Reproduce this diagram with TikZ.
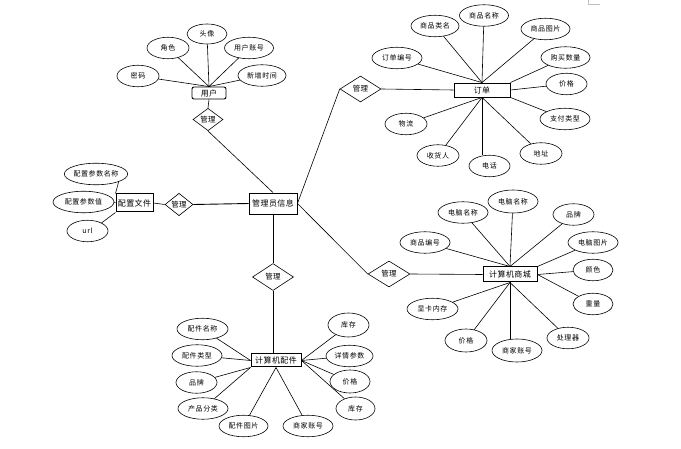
\documentclass[tikz,border=0pt]{standalone}
\usepackage{fontspec}
\setmainfont{Noto Sans CJK SC}
\usetikzlibrary{shapes.geometric}
\tikzset{
  attr/.style={draw, ellipse, inner sep=0pt, minimum height=21.5pt, minimum width=42pt, font=\fontsize{7}{8}\selectfont\addfontfeature{LetterSpace=8}, line width=0.6pt},
  attrw/.style={attr, minimum width=50pt},
  ent/.style={draw, rectangle, inner sep=0pt, line width=0.9pt, font=\fontsize{8}{9}\selectfont\addfontfeature{LetterSpace=6}},
  rel/.style={draw, diamond, inner sep=0pt, line width=0.6pt, font=\fontsize{7.5}{8}\selectfont\addfontfeature{LetterSpace=6}},
  conn/.style={line width=0.6pt},
}
\begin{document}
\begin{tikzpicture}[x=1pt,y=-1pt]
\useasboundingbox (0,0) rectangle (681,449);
\fill[white] (0,0) rectangle (681,449);
\coordinate (pc1) at (588,0);
\coordinate (pc2) at (588,4);
\coordinate (pc3) at (600,4);
\draw[gray!50, line width=0.5pt] (pc1) -- (pc2) -- (pc3);

% user
\node[ent, rounded corners=2pt, minimum width=34pt, minimum height=12pt] (user) at (209,93) {用户};
\node[rel, minimum width=30pt, minimum height=21pt] (udia) at (208,119.5) {管理};
\node[attr] (u1) at (138,76) {密码};
\node[attr] (u2) at (168,48) {角色};
\node[attr, minimum width=40pt, minimum height=20pt] (u3) at (207,34) {头像};
\node[attrw, minimum width=49pt] (u4) at (249,48) {用户账号};
\node[attrw, minimum width=48pt] (u5) at (262,75.5) {新增时间};
\foreach \a in {u1,u2,u3,u4,u5} \draw[conn] (\a) -- (user.north);
\draw[conn] (user.south) -- (udia.north);

% order
\node[ent, minimum width=56pt, minimum height=14pt] (order) at (482,90) {订单};
\node[rel, minimum width=41pt, minimum height=26pt] (odia) at (360.5,89) {管理};
\node[attrw] (o1) at (397,58) {订单编号};
\node[attrw, minimum width=48pt] (o2) at (435,26) {商品类名};
\node[attrw, minimum width=49pt] (o3) at (484,15.5) {商品名称};
\node[attrw, minimum width=49pt] (o4) at (545.5,29) {商品图片};
\node[attrw, minimum width=49pt] (o5) at (565.5,57.5) {购买数量};
\node[attr, minimum width=41pt] (o6) at (566.5,84) {价格};
\node[attrw] (o7) at (565,119) {支付类型};
\node[attr] (o8) at (406,124) {物流};
\node[attr] (o9) at (438,155.5) {收货人};
\node[attr, minimum width=41pt] (o10) at (489.5,166) {电话};
\node[attr] (o11) at (541,153.5) {地址};
\foreach \a in {o1,o2,o3,o4} \draw[conn] (\a) -- (order.north);
\draw[conn] (o5) -- (order.north east);
\draw[conn] (o6) -- (order.east);
\draw[conn] (o7) -- (order.south east);
\foreach \a in {o8,o9,o11} \draw[conn] (\a) -- (order.south);
\draw[conn] (order.south) -- (order.south |- o10.north);
\draw[conn] (odia.east) -- (order.west);

% config
\node[ent, line width=1pt, minimum width=37pt, minimum height=18pt] (cfg) at (134.5,203) {配置文件};
\node[rel, minimum width=28pt, minimum height=17pt] (cdia) at (179,204.5) {管理};
\node[attr, minimum width=63pt] (c1) at (96,174) {配置参数名称};
\node[attr, minimum width=61pt] (c2) at (83.5,202) {配置参数值};
\node[attr, minimum width=41pt] (c3) at (87.5,231) {url};
\draw[conn] (c1.south east) -- (cfg.north west);
\draw[conn] (c2.east) -- (cfg.west);
\draw[conn] (c3.30) -- (cfg.south west);
\draw[conn] (cfg.east) -- (cdia.west);

% admin
\node[ent, minimum width=48pt, minimum height=21pt] (admin) at (273,203.5) {管理员信息};
\draw[conn, line width=0.9pt] (cdia.east) -- (admin.west);
\draw[conn] (udia.south) -- (admin.north);
\draw[conn] (odia.west) -- (admin.east);
\node[rel, minimum width=41pt, minimum height=27pt] (pdia) at (273,277) {管理};
\node[rel, minimum width=42pt, minimum height=26pt] (mdia) at (389,274) {管理};
\draw[conn, line width=0.8pt] (admin.south) -- (pdia.north);
\draw[conn] (admin.east) -- (mdia.west);

% mall
\node[ent, line width=1pt, minimum width=54pt, minimum height=15pt] (mall) at (510,274.5) {计算机商城};
\draw[conn] (mdia.east) -- (mall.west);
\node[attrw] (m1) at (463,212.5) {电脑名称};
\node[attrw, minimum height=23pt] (m2) at (513,201.5) {电脑名称};
\node[attr, minimum width=41pt] (m3) at (573.5,214.5) {品牌};
\node[attrw] (m4) at (593,242.5) {电脑图片};
\node[attrw] (m5) at (425,242.5) {商品编号};
\node[attr, minimum width=40pt] (m6) at (593,270) {颜色};
\node[attr, minimum width=40pt] (m7) at (593,304) {重量};
\node[attrw, minimum width=51pt] (m8) at (432.5,309) {显卡内存};
\node[attr, minimum height=23pt] (m9) at (466,340.5) {价格};
\node[attrw, minimum height=23pt] (m10) at (517,350.5) {商家账号};
\node[attr] (m11) at (568,338) {处理器};
\foreach \a in {m1,m2,m3,m5} \draw[conn] (\a) -- (mall.north);
\draw[conn] (m4) -- (mall.north east);
\draw[conn] (m6) -- (mall.east);
\draw[conn] (m7) -- (mall.east);
\foreach \a in {m8,m9,m11} \draw[conn] (\a) -- (mall.south);
\draw[conn] (mall.south) -- (mall.south |- m10.north);

% parts
\node[ent, line width=1pt, minimum width=50pt, minimum height=13pt] (parts) at (276,360.5) {计算机配件};
\draw[conn, line width=0.8pt] (pdia.south) -- (pdia.south |- parts.north);
\node[attrw, minimum width=51pt] (p1) at (202.5,329) {配件名称};
\node[attrw] (p2) at (197,355.5) {配件类型};
\node[attr, minimum width=41pt] (p3) at (196.5,382.5) {品牌};
\node[attrw] (p4) at (203,408.5) {产品分类};
\node[attrw, minimum width=49pt] (p5) at (243.5,426) {配件图片};
\node[attrw] (p6) at (308,426) {商家账号};
\node[attr, minimum width=41pt, minimum height=24pt] (p7) at (348.5,325) {库存};
\node[attr, minimum width=47pt] (p8) at (349.5,356) {详情参数};
\node[attr, minimum width=40pt, minimum height=23pt] (p9) at (350,381.5) {价格};
\node[attr, minimum width=39pt, minimum height=23pt] (p10) at (355.5,408.5) {库存};
\draw[conn] (p1) -- (parts.west);
\draw[conn] (p2) -- (parts.west);
\draw[conn] (p3) -- (parts.south west);
\draw[conn] (p4) -- (parts.south west);
\draw[conn] (p5) -- (parts.south);
\draw[conn] (p6) -- (parts.south);
\foreach \a in {p7,p8,p9,p10} \draw[conn] (\a) -- (parts.east);
\end{tikzpicture}
\end{document}
